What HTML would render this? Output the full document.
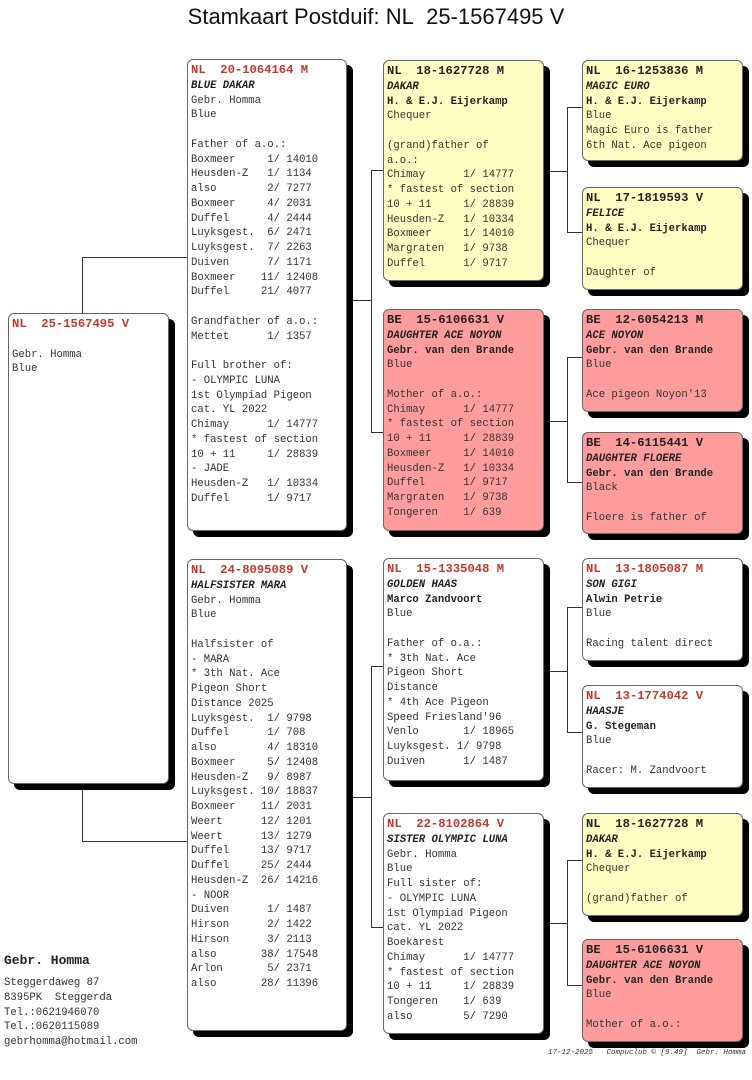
<!DOCTYPE html>
<html><head><meta charset="utf-8">
<style>
body{margin:0;width:752px;height:1080px;background:#fff;position:relative;overflow:hidden;font-family:"Liberation Mono",monospace;}
.t{position:absolute;left:0;width:752px;top:4px;text-align:center;font-family:"Liberation Sans",sans-serif;font-size:22px;color:#111;}
.b{position:absolute;border:1px solid #666;border-radius:6px;box-shadow:6px 6px 0 #000;background:#fff;box-sizing:border-box;padding:3px 0 0 3px;font-size:10.6px;line-height:14.75px;white-space:pre;color:#333;}
.y{background:#ffffc4;}
.r{background:#ff9d9d;}
.h{font-weight:bold;color:#c0392b;font-size:12.2px;}
.y .h,.r .h{color:#222;}
.n{font-style:italic;font-weight:bold;color:#222;}
.k{font-weight:bold;color:#222;}
.l{position:absolute;background:#333;}
.h1{height:1px;}
.v1{width:1px;}
</style></head><body>
<div class="t">Stamkaart Postduif: NL&nbsp; 25-1567495 V</div>

<div class="l v1" style="left:82px;top:257px;height:56px"></div>
<div class="l h1" style="left:82px;top:257px;width:105px"></div>
<div class="l v1" style="left:82px;top:783px;height:58px"></div>
<div class="l h1" style="left:82px;top:841px;width:105px"></div>

<div class="l h1" style="left:352px;top:300px;width:19px"></div>
<div class="l v1" style="left:371px;top:170px;height:262px"></div>
<div class="l h1" style="left:371px;top:170px;width:12px"></div>
<div class="l h1" style="left:371px;top:432px;width:12px"></div>

<div class="l h1" style="left:352px;top:797px;width:19px"></div>
<div class="l v1" style="left:371px;top:666px;height:261px"></div>
<div class="l h1" style="left:371px;top:666px;width:12px"></div>
<div class="l h1" style="left:371px;top:927px;width:12px"></div>

<div class="l h1" style="left:549px;top:171px;width:18px"></div>
<div class="l v1" style="left:567px;top:107px;height:125px"></div>
<div class="l h1" style="left:567px;top:107px;width:15px"></div>
<div class="l h1" style="left:567px;top:232px;width:15px"></div>

<div class="l h1" style="left:549px;top:421px;width:18px"></div>
<div class="l v1" style="left:567px;top:357px;height:125px"></div>
<div class="l h1" style="left:567px;top:357px;width:15px"></div>
<div class="l h1" style="left:567px;top:482px;width:15px"></div>

<div class="l h1" style="left:549px;top:671px;width:18px"></div>
<div class="l v1" style="left:567px;top:607px;height:125px"></div>
<div class="l h1" style="left:567px;top:607px;width:15px"></div>
<div class="l h1" style="left:567px;top:732px;width:15px"></div>

<div class="l h1" style="left:549px;top:923px;width:18px"></div>
<div class="l v1" style="left:567px;top:860px;height:125px"></div>
<div class="l h1" style="left:567px;top:860px;width:15px"></div>
<div class="l h1" style="left:567px;top:985px;width:15px"></div>

<div class="b" style="left:8px;top:313px;width:161px;height:471px"><span class="h">NL  25-1567495 V</span>

Gebr. Homma
Blue</div>

<div class="b" style="left:187px;top:59px;width:160px;height:472px"><span class="h">NL  20-1064164 M</span>
<span class="n">BLUE DAKAR</span>
Gebr. Homma
Blue

Father of a.o.:
Boxmeer     1/ 14010
Heusden-Z   1/ 1134
also        2/ 7277
Boxmeer     4/ 2031
Duffel      4/ 2444
Luyksgest.  6/ 2471
Luyksgest.  7/ 2263
Duiven      7/ 1171
Boxmeer    11/ 12408
Duffel     21/ 4077

Grandfather of a.o.:
Mettet      1/ 1357

Full brother of:
- OLYMPIC LUNA
1st Olympiad Pigeon
cat. YL 2022
Chimay      1/ 14777
* fastest of section
10 + 11     1/ 28839
- JADE
Heusden-Z   1/ 10334
Duffel      1/ 9717</div>

<div class="b" style="left:187px;top:559px;width:160px;height:472px"><span class="h">NL  24-8095089 V</span>
<span class="n">HALFSISTER MARA</span>
Gebr. Homma
Blue

Halfsister of
- MARA
* 3th Nat. Ace
Pigeon Short
Distance 2025
Luyksgest.  1/ 9798
Duffel      1/ 708
also        4/ 18310
Boxmeer     5/ 12408
Heusden-Z   9/ 8987
Luyksgest. 10/ 18837
Boxmeer    11/ 2031
Weert      12/ 1201
Weert      13/ 1279
Duffel     13/ 9717
Duffel     25/ 2444
Heusden-Z  26/ 14216
- NOOR
Duiven      1/ 1487
Hirson      2/ 1422
Hirson      3/ 2113
also       38/ 17548
Arlon       5/ 2371
also       28/ 11396</div>

<div class="b y" style="left:383px;top:60px;width:161px;height:221px"><span class="h">NL  18-1627728 M</span>
<span class="n">DAKAR</span>
<span class="k">H. &amp; E.J. Eijerkamp</span>
Chequer

(grand)father of
a.o.:
Chimay      1/ 14777
* fastest of section
10 + 11     1/ 28839
Heusden-Z   1/ 10334
Boxmeer     1/ 14010
Margraten   1/ 9738
Duffel      1/ 9717</div>

<div class="b r" style="left:383px;top:309px;width:161px;height:222px"><span class="h">BE  15-6106631 V</span>
<span class="n">DAUGHTER ACE NOYON</span>
<span class="k">Gebr. van den Brande</span>
Blue

Mother of a.o.:
Chimay      1/ 14777
* fastest of section
10 + 11     1/ 28839
Boxmeer     1/ 14010
Heusden-Z   1/ 10334
Duffel      1/ 9717
Margraten   1/ 9738
Tongeren    1/ 639</div>

<div class="b" style="left:383px;top:558px;width:161px;height:223px"><span class="h">NL  15-1335048 M</span>
<span class="n">GOLDEN HAAS</span>
<span class="k">Marco Zandvoort</span>
Blue

Father of o.a.:
* 3th Nat. Ace
Pigeon Short
Distance
* 4th Ace Pigeon
Speed Friesland'96
Venlo       1/ 18965
Luyksgest. 1/ 9798
Duiven      1/ 1487</div>

<div class="b" style="left:383px;top:813px;width:161px;height:221px"><span class="h">NL  22-8102864 V</span>
<span class="n">SISTER OLYMPIC LUNA</span>
Gebr. Homma
Blue
Full sister of:
- OLYMPIC LUNA
1st Olympiad Pigeon
cat. YL 2022
Boekarest
Chimay      1/ 14777
* fastest of section
10 + 11     1/ 28839
Tongeren    1/ 639
also        5/ 7290</div>

<div class="b y" style="left:582px;top:60px;width:161px;height:101px"><span class="h">NL  16-1253836 M</span>
<span class="n">MAGIC EURO</span>
<span class="k">H. &amp; E.J. Eijerkamp</span>
Blue
Magic Euro is father
6th Nat. Ace pigeon</div>

<div class="b y" style="left:582px;top:187px;width:161px;height:103px"><span class="h">NL  17-1819593 V</span>
<span class="n">FELICE</span>
<span class="k">H. &amp; E.J. Eijerkamp</span>
Chequer

Daughter of</div>

<div class="b r" style="left:582px;top:309px;width:161px;height:103px"><span class="h">BE  12-6054213 M</span>
<span class="n">ACE NOYON</span>
<span class="k">Gebr. van den Brande</span>
Blue

Ace pigeon Noyon'13</div>

<div class="b r" style="left:582px;top:432px;width:161px;height:102px"><span class="h">BE  14-6115441 V</span>
<span class="n">DAUGHTER FLOERE</span>
<span class="k">Gebr. van den Brande</span>
Black

Floere is father of</div>

<div class="b" style="left:582px;top:558px;width:161px;height:103px"><span class="h">NL  13-1805087 M</span>
<span class="n">SON GIGI</span>
<span class="k">Alwin Petrie</span>
Blue

Racing talent direct</div>

<div class="b" style="left:582px;top:685px;width:161px;height:103px"><span class="h">NL  13-1774042 V</span>
<span class="n">HAASJE</span>
<span class="k">G. Stegeman</span>
Blue

Racer: M. Zandvoort</div>

<div class="b y" style="left:582px;top:813px;width:161px;height:103px"><span class="h">NL  18-1627728 M</span>
<span class="n">DAKAR</span>
<span class="k">H. &amp; E.J. Eijerkamp</span>
Chequer

(grand)father of</div>

<div class="b r" style="left:582px;top:939px;width:161px;height:103px"><span class="h">BE  15-6106631 V</span>
<span class="n">DAUGHTER ACE NOYON</span>
<span class="k">Gebr. van den Brande</span>
Blue

Mother of a.o.:</div>

<div style="position:absolute;left:4px;top:953px;font-size:13px;font-weight:bold;color:#222;">Gebr. Homma</div>
<div style="position:absolute;left:4px;top:976px;font-size:10.6px;line-height:14.75px;white-space:pre;color:#333;">Steggerdaweg 87
8395PK  Steggerda
Tel.:0621946070
Tel.:0620115089
gebrhomma@hotmail.com</div>
<div style="position:absolute;left:548px;top:1049px;font-size:7.5px;font-style:italic;white-space:pre;color:#333;">17-12-2025   Compuclub © [9.49]  Gebr. Homma</div>
</body></html>
